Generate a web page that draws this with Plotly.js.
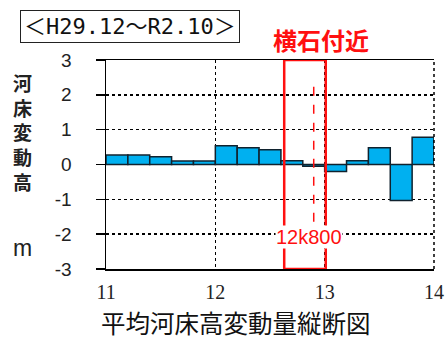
<!DOCTYPE html>
<html>
<head>
<meta charset="utf-8">
<script src="https://cdn.plot.ly/plotly-3.0.1.min.js"></script>
<style>html,body{margin:0;padding:0;background:#fff;}#chart{width:446px;height:339px;}</style>
</head>
<body>
<div id="chart"></div>
<script>
// Distance (km) at bar centres and mean bed-level change (m)
const distanceKm = [11.1, 11.3, 11.5, 11.7, 11.9, 12.1, 12.3, 12.5, 12.7, 12.9, 13.1, 13.3, 13.5, 13.7, 13.9];
const bedChange = [0.27, 0.27, 0.22, 0.10, 0.10, 0.54, 0.48, 0.42, 0.11, -0.05, -0.20, 0.11, 0.48, -1.03, 0.78];
const xTickVals = [11, 12, 13, 14];
const xTickText = ['11', '12', '13', '14'];
const yTickVals = [-3, -2, -1, 0, 1, 2, 3];
const yTickText = ['-3', '-2', '-1', '0', '1', '2', '3'];
const periodLabel = '＜H29.12～R2.10＞';
const siteLabel = '横石付近';
const pointLabel = '12k800';
const yTitleChars = ['河', '床', '変', '動', '高'];
const yUnit = 'm';
const chartTitle = '平均河床高変動量縦断図';

const trace = {
  type: 'bar',
  x: distanceKm,
  y: bedChange,
  width: 0.2,
  marker: {color: '#00B0F0', line: {color: '#10222e', width: 1.5}},
  hoverinfo: 'skip'
};

const layout = {
  width: 446, height: 339,
  margin: {l: 106, r: 12, t: 60, b: 70},
  paper_bgcolor: '#fff', plot_bgcolor: '#fff',
  showlegend: false,
  xaxis: {
    range: [11, 14],
    tickvals: xTickVals, ticktext: xTickText,
    ticks: '',
    showline: true, mirror: true, linecolor: '#000', linewidth: 1.5,
    showgrid: true, gridcolor: '#000', griddash: 'dot', gridwidth: 1.5,
    zeroline: false,
    tickfont: {family: 'Liberation Serif, Times New Roman, serif', size: 20, color: '#222'},
    ticklabelstandoff: 4
  },
  yaxis: {
    range: [-3, 3],
    tickvals: yTickVals, ticktext: yTickText,
    ticks: 'outside', ticklen: 9, tickwidth: 1.5, tickcolor: '#000',
    showline: true, linecolor: '#000', linewidth: 1.5,
    showgrid: true, gridcolor: '#000', griddash: 'dot', gridwidth: 1.5,
    zeroline: true, zerolinecolor: '#000', zerolinewidth: 1.5,
    tickfont: {family: 'Liberation Sans, Arial, sans-serif', size: 19, color: '#222'},
    ticklabelstandoff: 20
  },
  shapes: [
    {type: 'line', xref: 'paper', yref: 'paper', x0: 1, x1: 1, y0: 0, y1: 1,
     line: {color: '#000', width: 1.5, dash: 'dot'}, layer: 'above'},
    {type: 'rect', xref: 'x', yref: 'y', x0: 12.63, x1: 13.01, y0: -3, y1: 3,
     line: {color: '#FF1010', width: 2.5}, layer: 'above'},
    {type: 'line', xref: 'x', yref: 'y', x0: 12.9, x1: 12.9, y0: -1.64, y1: 2.4,
     line: {color: '#FF1010', width: 1.5, dash: 'dash'}, layer: 'above'}
  ],
  annotations: [
    {text: periodLabel, xref: 'paper', yref: 'paper', x: (130 - 106) / 328, y: 1 + (60 - 26) / 209,
     xanchor: 'center', yanchor: 'middle', showarrow: false,
     font: {family: 'DejaVu Sans Mono, Noto Sans CJK JP, monospace', size: 22, color: '#111'},
     bordercolor: '#222', borderwidth: 1, borderpad: 3, bgcolor: '#fff'},
    {text: siteLabel, xref: 'x', yref: 'paper', x: 12.97, y: 1 + (60 - 40) / 209,
     xanchor: 'center', yanchor: 'middle', showarrow: false,
     font: {family: 'Noto Sans CJK JP, sans-serif', size: 24, color: '#FF1010', weight: 'bold'}},
    {text: pointLabel, xref: 'x', yref: 'y', x: 12.86, y: -2.09,
     xanchor: 'center', yanchor: 'middle', showarrow: false, bgcolor: '#fff', borderpad: 0,
     font: {family: 'Liberation Sans, Arial, sans-serif', size: 20, color: '#FF1010'}},
    {text: yTitleChars.join('<br>'), xref: 'paper', yref: 'paper', x: (22 - 106) / 328, y: 1 - (132 - 60) / 209,
     xanchor: 'center', yanchor: 'middle', showarrow: false,
     font: {family: 'Noto Sans CJK JP, sans-serif', size: 19, color: '#222', weight: 'bold'}},
    {text: yUnit, xref: 'paper', yref: 'paper', x: (22 - 106) / 328, y: 1 - (248 - 60) / 209,
     xanchor: 'center', yanchor: 'middle', showarrow: false,
     font: {family: 'Liberation Sans, Arial, sans-serif', size: 23, color: '#222'}},
    {text: chartTitle, xref: 'paper', yref: 'paper', x: (236 - 106) / 328, y: -(322 - 269) / 209,
     xanchor: 'center', yanchor: 'middle', showarrow: false, borderpad: 0,
     font: {family: 'Noto Sans CJK JP, sans-serif', size: 24.5, color: '#111'}}
  ]
};

Plotly.newPlot('chart', [trace], layout, {displayModeBar: false, staticPlot: true});
</script>
</body>
</html>
